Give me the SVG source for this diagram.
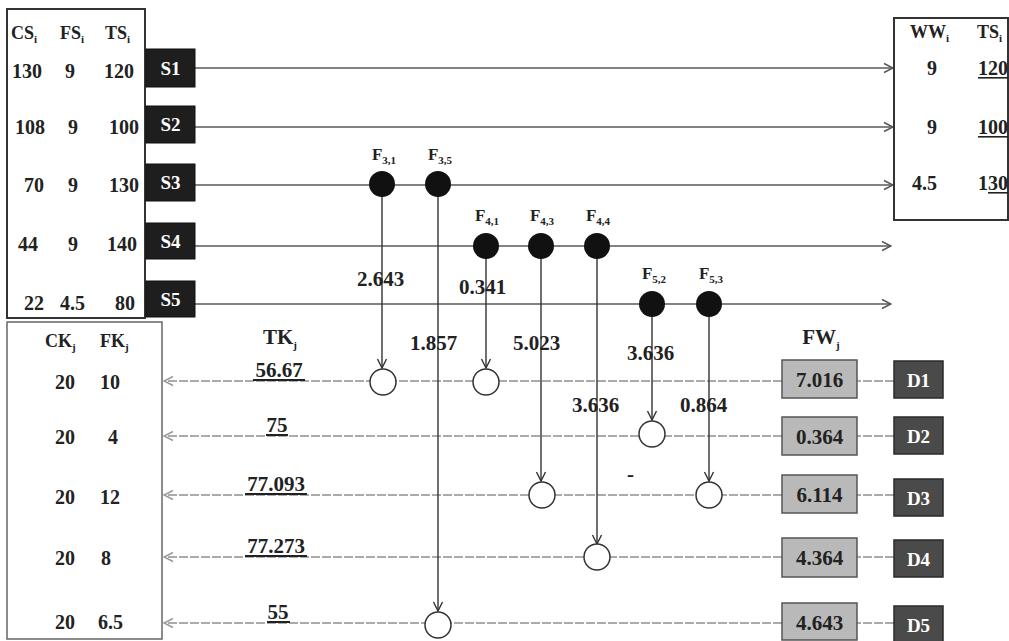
<svg xmlns="http://www.w3.org/2000/svg" width="1009" height="641" viewBox="0 0 1009 641">
<style>
text{font-family:"Liberation Serif","Times New Roman",serif;font-weight:bold;fill:#222;}
.t{font-size:20px;}
.h{font-size:18px;}
.n{font-size:21px;}
.f{font-size:17px;}
.w{fill:#fff;font-size:19px;}
.sub{font-size:11px;}
.box{fill:#fff;stroke:#333;stroke-width:2;}
.sbox{fill:#1e1e1e;stroke:#111;stroke-width:1;}
.dbox{fill:#4a4a4a;stroke:#2a2a2a;stroke-width:1.5;}
.fw{fill:#b9b9b9;stroke:#555;stroke-width:1.5;}
.sl{stroke:#5a5a5a;stroke-width:1.5;fill:none;}
.dl{stroke:#909090;stroke-width:1.5;fill:none;stroke-dasharray:9 2;}
.vl{stroke:#333;stroke-width:1.4;fill:none;}
.bc{fill:#111;}
.wc{fill:#fff;stroke:#333;stroke-width:1.5;}
.ul{fill:#222;}
</style>
<defs>
<marker id="arrR" viewBox="0 0 12 12" refX="11" refY="6" markerWidth="12" markerHeight="12" markerUnits="userSpaceOnUse" orient="auto"><path d="M2,1.5 L11,6 L2,10.5" fill="none" stroke="#555" stroke-width="1.5"/></marker>
<marker id="arrL" viewBox="0 0 12 12" refX="11" refY="6" markerWidth="12" markerHeight="12" markerUnits="userSpaceOnUse" orient="auto"><path d="M2,1.5 L11,6 L2,10.5" fill="none" stroke="#999" stroke-width="1.5"/></marker>
<marker id="arrD" viewBox="0 0 12 12" refX="11" refY="6" markerWidth="12" markerHeight="12" markerUnits="userSpaceOnUse" orient="auto"><path d="M2,1.5 L11,6 L2,10.5" fill="none" stroke="#333" stroke-width="1.4"/></marker>
</defs>

<!-- connectors -->
<g id="connectors">
  <line class="sl" x1="195" y1="68" x2="893" y2="68" marker-end="url(#arrR)"/>
  <line class="sl" x1="195" y1="127" x2="893" y2="127" marker-end="url(#arrR)"/>
  <line class="sl" x1="195" y1="185" x2="893" y2="185" marker-end="url(#arrR)"/>
  <line class="sl" x1="195" y1="246" x2="891" y2="246" marker-end="url(#arrR)"/>
  <line class="sl" x1="195" y1="304" x2="891" y2="304" marker-end="url(#arrR)"/>

  <line class="dl" x1="894" y1="381" x2="857" y2="381"/>
  <line class="dl" x1="894" y1="436" x2="857" y2="436"/>
  <line class="dl" x1="894" y1="495" x2="857" y2="495"/>
  <line class="dl" x1="894" y1="557" x2="857" y2="557"/>
  <line class="dl" x1="894" y1="623" x2="857" y2="623"/>

  <line class="dl" x1="782" y1="381" x2="164" y2="381" marker-end="url(#arrL)"/>
  <line class="dl" x1="782" y1="436" x2="164" y2="436" marker-end="url(#arrL)"/>
  <line class="dl" x1="782" y1="495" x2="164" y2="495" marker-end="url(#arrL)"/>
  <line class="dl" x1="782" y1="557" x2="164" y2="557" marker-end="url(#arrL)"/>
  <line class="dl" x1="782" y1="623" x2="164" y2="623" marker-end="url(#arrL)"/>

  <line class="vl" x1="382" y1="196" x2="382" y2="368" marker-end="url(#arrD)"/>
  <line class="vl" x1="438" y1="196" x2="438" y2="611" marker-end="url(#arrD)"/>
  <line class="vl" x1="486" y1="258" x2="486" y2="368" marker-end="url(#arrD)"/>
  <line class="vl" x1="541" y1="258" x2="541" y2="481" marker-end="url(#arrD)"/>
  <line class="vl" x1="597" y1="258" x2="597" y2="544" marker-end="url(#arrD)"/>
  <line class="vl" x1="652" y1="316" x2="652" y2="420" marker-end="url(#arrD)"/>
  <line class="vl" x1="709" y1="316" x2="709" y2="481" marker-end="url(#arrD)"/>
</g>

<!-- flow labels -->
<g id="flow-labels" class="n">
  <text class="n" x="357" y="286">2.643</text>
  <text class="n" x="459" y="294">0.341</text>
  <text class="n" x="410" y="350">1.857</text>
  <text class="n" x="513" y="350">5.023</text>
  <text class="n" x="627" y="360">3.636</text>
  <text class="n" x="572" y="412">3.636</text>
  <text class="n" x="680" y="412">0.864</text>
  <text class="n" x="627" y="481">-</text>
</g>

<!-- source table -->
<g id="source-table">
  <rect class="box" x="7" y="9" width="138" height="309"/>
  <text class="h" x="11" y="39">CS<tspan class="sub" dy="4">i</tspan></text>
  <text class="h" x="60" y="39">FS<tspan class="sub" dy="4">i</tspan></text>
  <text class="h" x="105" y="39">TS<tspan class="sub" dy="4">i</tspan></text>
  <text class="t" x="12" y="78">130</text><text class="t" x="65" y="78">9</text><text class="t" x="104" y="78">120</text>
  <text class="t" x="15" y="134">108</text><text class="t" x="68" y="134">9</text><text class="t" x="109" y="134">100</text>
  <text class="t" x="24" y="192">70</text><text class="t" x="68" y="192">9</text><text class="t" x="109" y="192">130</text>
  <text class="t" x="18" y="251">44</text><text class="t" x="68" y="251">9</text><text class="t" x="107" y="251">140</text>
  <text class="t" x="24" y="310">22</text><text class="t" x="60" y="310">4.5</text><text class="t" x="115" y="310">80</text>
</g>

<g id="S1"><rect class="sbox" x="146" y="49" width="49" height="38"/><text class="w" x="170.5" y="75" text-anchor="middle">S1</text></g>
<g id="S2"><rect class="sbox" x="146" y="106" width="49" height="37"/><text class="w" x="170.5" y="131" text-anchor="middle">S2</text></g>
<g id="S3"><rect class="sbox" x="146" y="164" width="49" height="37"/><text class="w" x="170.5" y="189" text-anchor="middle">S3</text></g>
<g id="S4"><rect class="sbox" x="146" y="223" width="49" height="36"/><text class="w" x="170.5" y="248" text-anchor="middle">S4</text></g>
<g id="S5"><rect class="sbox" x="146" y="281" width="49" height="36"/><text class="w" x="170.5" y="306" text-anchor="middle">S5</text></g>

<!-- waste table -->
<g id="waste-table">
  <rect class="box" x="894" y="18" width="114" height="202"/>
  <text class="h" x="910" y="38">WW<tspan class="sub" dy="4">i</tspan></text>
  <text class="h" x="977" y="38">TS<tspan class="sub" dy="4">i</tspan></text>
  <text class="t" x="932" y="75" text-anchor="middle">9</text>
  <text class="t" x="978" y="75">120</text><rect class="ul" x="978" y="77" width="30" height="1.6"/>
  <text class="t" x="932" y="134" text-anchor="middle">9</text>
  <text class="t" x="978" y="134">100</text><rect class="ul" x="978" y="136" width="30" height="1.6"/>
  <text class="t" x="912" y="190">4.5</text>
  <text class="t" x="978" y="190">130</text><rect class="ul" x="988" y="192" width="20" height="1.6"/>
</g>

<!-- F nodes -->
<g id="F31"><circle class="bc" cx="382" cy="184" r="13"/><text class="f" x="384" y="160" text-anchor="middle">F<tspan class="sub" dy="4">3,1</tspan></text></g>
<g id="F35"><circle class="bc" cx="438" cy="184" r="13"/><text class="f" x="440" y="160" text-anchor="middle">F<tspan class="sub" dy="4">3,5</tspan></text></g>
<g id="F41"><circle class="bc" cx="486" cy="246" r="13"/><text class="f" x="487" y="221" text-anchor="middle">F<tspan class="sub" dy="4">4,1</tspan></text></g>
<g id="F43"><circle class="bc" cx="541" cy="246" r="13"/><text class="f" x="542" y="221" text-anchor="middle">F<tspan class="sub" dy="4">4,3</tspan></text></g>
<g id="F44"><circle class="bc" cx="597" cy="246" r="13"/><text class="f" x="598" y="221" text-anchor="middle">F<tspan class="sub" dy="4">4,4</tspan></text></g>
<g id="F52"><circle class="bc" cx="652" cy="304" r="13"/><text class="f" x="654" y="279" text-anchor="middle">F<tspan class="sub" dy="4">5,2</tspan></text></g>
<g id="F53"><circle class="bc" cx="709" cy="304" r="13"/><text class="f" x="711" y="279" text-anchor="middle">F<tspan class="sub" dy="4">5,3</tspan></text></g>

<!-- receiving circles -->
<g id="R1"><circle class="wc" cx="383" cy="382" r="13"/></g>
<g id="R2"><circle class="wc" cx="486" cy="382" r="13"/></g>
<g id="R3"><circle class="wc" cx="652" cy="434" r="13"/></g>
<g id="R4"><circle class="wc" cx="542" cy="495" r="13"/></g>
<g id="R5"><circle class="wc" cx="709" cy="495" r="13"/></g>
<g id="R6"><circle class="wc" cx="597" cy="557" r="13"/></g>
<g id="R7"><circle class="wc" cx="438" cy="625" r="13"/></g>

<!-- consumer table -->
<g id="consumer-table">
  <rect class="box" x="7" y="322" width="155" height="317" style="stroke:#666;stroke-width:1.5"/>
  <text class="h" x="45" y="347">CK<tspan class="sub" dy="4">j</tspan></text>
  <text class="h" x="100" y="347">FK<tspan class="sub" dy="4">j</tspan></text>
  <text class="t" x="55" y="389">20</text><text class="t" x="100" y="389">10</text>
  <text class="t" x="55" y="444">20</text><text class="t" x="108" y="444">4</text>
  <text class="t" x="55" y="504">20</text><text class="t" x="100" y="504">12</text>
  <text class="t" x="55" y="565">20</text><text class="t" x="101" y="565">8</text>
  <text class="t" x="55" y="629">20</text><text class="t" x="98" y="629">6.5</text>
</g>

<!-- TK column -->
<g id="TK-column">
  <text class="n" x="280" y="344" text-anchor="middle">TK<tspan class="sub" dy="5">j</tspan></text>
  <text class="n" x="279" y="377" text-anchor="middle">56.67</text><rect class="ul" x="253" y="379" width="52" height="2"/>
  <text class="n" x="277" y="432" text-anchor="middle">75</text><rect class="ul" x="266" y="434" width="22" height="2"/>
  <text class="n" x="276" y="491" text-anchor="middle">77.093</text><rect class="ul" x="245" y="493" width="62" height="2"/>
  <text class="n" x="276" y="553" text-anchor="middle">77.273</text><rect class="ul" x="245" y="555" width="62" height="2"/>
  <text class="n" x="278" y="619" text-anchor="middle">55</text><rect class="ul" x="267" y="621" width="23" height="2"/>
</g>

<!-- FW column -->
<text class="n" x="821" y="344" text-anchor="middle">FW<tspan class="sub" dy="5">j</tspan></text>
<g id="FW1"><rect class="fw" x="782" y="360" width="75" height="38"/><text class="n" x="819.5" y="387" text-anchor="middle">7.016</text></g>
<g id="FW2"><rect class="fw" x="782" y="417" width="75" height="38"/><text class="n" x="819.5" y="444" text-anchor="middle">0.364</text></g>
<g id="FW3"><rect class="fw" x="782" y="475" width="75" height="38"/><text class="n" x="819.5" y="502" text-anchor="middle">6.114</text></g>
<g id="FW4"><rect class="fw" x="782" y="538" width="75" height="39"/><text class="n" x="819.5" y="565" text-anchor="middle">4.364</text></g>
<g id="FW5"><rect class="fw" x="782" y="603" width="75" height="37"/><text class="n" x="819.5" y="630" text-anchor="middle">4.643</text></g>

<!-- D nodes -->
<g id="D1"><rect class="dbox" x="894" y="361" width="49" height="37"/><text class="w" x="918.5" y="387" text-anchor="middle">D1</text></g>
<g id="D2"><rect class="dbox" x="894" y="417" width="49" height="37"/><text class="w" x="918.5" y="443" text-anchor="middle">D2</text></g>
<g id="D3"><rect class="dbox" x="894" y="479" width="49" height="37"/><text class="w" x="918.5" y="505" text-anchor="middle">D3</text></g>
<g id="D4"><rect class="dbox" x="894" y="540" width="49" height="37"/><text class="w" x="918.5" y="566" text-anchor="middle">D4</text></g>
<g id="D5"><rect class="dbox" x="894" y="606" width="49" height="36"/><text class="w" x="918.5" y="632" text-anchor="middle">D5</text></g>
</svg>
